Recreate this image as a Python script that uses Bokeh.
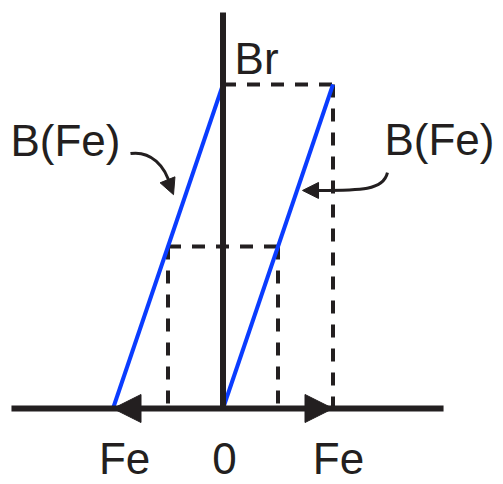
from bokeh.plotting import figure
from bokeh.models import Range1d, Arrow, NormalHead
from bokeh.core.properties import value
from bokeh.embed import file_html
from bokeh.resources import INLINE

# ---- data (H in units of Hc, B in units of Br) ----
Hc = 1.0
Br = 1.0
H_fe = 0.5
B_fe = 0.5
left_H = [-1.0, 0.0]
left_B = [0.0, 1.0]
right_H = [0.0, 1.0]
right_B = [0.0, 1.0]
axis_H = [-1.923, 2.005]
axis_B = [0.0, 1.222]
tick_labels = ["Fe", "0", "Fe"]
tick_pos = [-0.895, 0.014, 1.05]

INK = "#231f20"
BLUE = "#0a3cff"
FONT = value("Liberation Sans")
FS = "44px"

W, H = 503, 484
p = figure(width=W, height=H, output_backend="svg", toolbar_location=None,
           x_range=Range1d(-222.5 / 110, -222.5 / 110 + W / 110),
           y_range=Range1d(408 / 324 - H / 324, 408 / 324),
           min_border=0, outline_line_color=None, background_fill_color="white")
p.axis.visible = False
p.grid.visible = False

# dashed guide lines
dash = dict(line_color=INK, line_width=4, line_dash="13 11")
p.line([0, Hc], [Br, Br], **dash)
p.line([Hc, Hc], [Br, 0], **dash)
p.line([-H_fe, H_fe], [B_fe, B_fe], **dash)
p.line([-H_fe, -H_fe], [B_fe, 0], **dash)
p.line([H_fe, H_fe], [B_fe, 0], **dash)

# loop lines
p.line(left_H, left_B, line_color=BLUE, line_width=4)
p.line(right_H, right_B, line_color=BLUE, line_width=4)

# axes
p.line(axis_H, [0, 0], line_color=INK, line_width=6)
p.line([0, 0], axis_B, line_color=INK, line_width=6)

# axis arrowheads at +/- Hc
for tip in (-Hc, Hc):
    p.add_layout(Arrow(x_start=tip * 0.6, y_start=0, x_end=tip, y_end=0, line_alpha=0,
                       end=NormalHead(size=28, fill_color=INK, line_color=INK, line_width=1)))

# callout curves
p.bezier(x0=[-0.841], y0=[0.787], x1=[-0.477], y1=[0.685],
         cx0=[-0.659], cy0=[0.796], cx1=[-0.523], cy1=[0.750],
         line_color=INK, line_width=3)
p.add_layout(Arrow(x_start=-0.495, y_start=0.698, x_end=-0.45, y_end=0.660, line_color=INK,
                   line_width=3, end=NormalHead(size=16, fill_color=INK, line_color=INK, line_width=1)))
p.bezier(x0=[1.495], y0=[0.728], x1=[0.868], y1=[0.673],
         cx0=[1.459], cy0=[0.673], cx1=[1.25], cy1=[0.673],
         line_color=INK, line_width=3)
p.add_layout(Arrow(x_start=0.886, y_start=0.673, x_end=0.723, y_end=0.673, line_color=INK,
                   line_width=3, end=NormalHead(size=16, fill_color=INK, line_color=INK, line_width=1)))

# texts
txt = dict(text_font=FONT, text_font_size=FS, text_color=INK, text_baseline="alphabetic")
p.text(x=tick_pos, y=[-0.153] * 3, text=tick_labels, text_align="center", **txt)
p.text(x=[0.105], y=[1.080], text=["Br"], text_align="left", **txt)
p.text(x=[-1.932, 1.468], y=[0.827, 0.830], text=["B(Fe)", "B(Fe)"], text_align="left", **txt)

open("out.html", "w").write(file_html(p, INLINE))
